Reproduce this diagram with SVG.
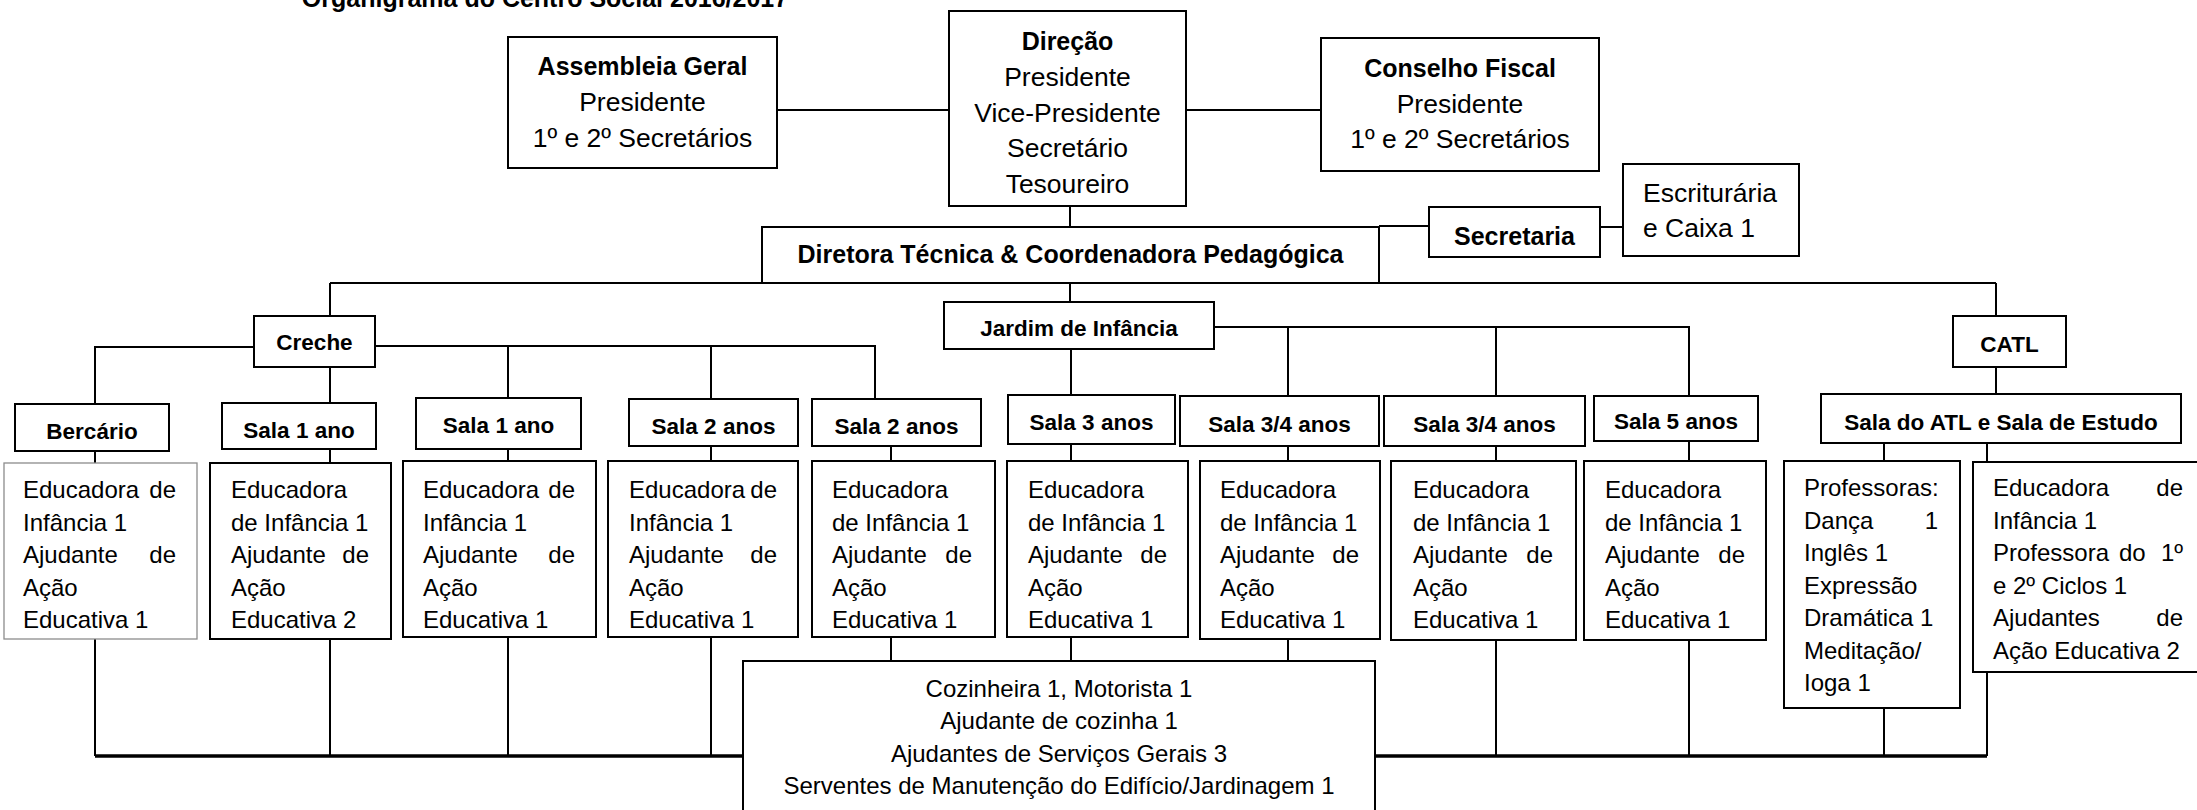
<svg xmlns="http://www.w3.org/2000/svg" width="2197" height="810" viewBox="0 0 2197 810">
<style>
.bx{fill:#fff;stroke:#000;stroke-width:2}
.gx{fill:#fff;stroke:#8c8c8c;stroke-width:1.3}
.ln{fill:none;stroke:#000;stroke-width:2}
.thk{fill:none;stroke:#000;stroke-width:3.5}
text{font-family:"Liberation Sans",Arial,sans-serif;fill:#000}
.ti{font-size:25px;font-weight:bold;text-anchor:middle}
.h{font-size:25px;font-weight:bold;text-anchor:middle}
.tp{font-size:26.5px;text-anchor:middle}
.tl{font-size:26.5px}
.lb{font-size:22.5px;font-weight:bold;text-anchor:middle}
.c{font-size:24px}
.r{font-size:24px;text-anchor:end}
.m{font-size:24px;text-anchor:middle}
</style>
<rect width="2197" height="810" fill="#fff"/>
<text class="ti" x="545" y="7">Organigrama do Centro Social 2016/2017</text>
<g id="connectors">
<path class="ln" d="M777 110H949M1186 110H1321M1070 206V227M1379 226H1429M1600 227H1623"/>
<path class="ln" d="M330 283H1996M330 283V316M1996 283V316M1070 283V302"/>
<path class="ln" d="M254 347H95V404M375 346H875V399M508 346V398M711 346V399M330 367V403"/>
<path class="ln" d="M1071 349V395M1214 327H1689V396M1288 327V396M1496 327V396M1996 367V394"/>
<path class="ln" d="M95 451V463M330 449V463M508 449V461M711 446V461M891 446V461M1071 444V461M1288 446V461M1496 446V461M1689 441V461M1884 443V461M1987 443V462"/>
<path class="ln" d="M95 639V756M330 639V756M508 637V756M711 637V756M1496 640V756M1689 640V756M1884 708V756M1987 672V756M891 637V661M1071 637V661M1288 639V661"/>
<path class="thk" d="M95 756H1987"/>
</g>
<g id="assembleia">
<rect class="bx" x="508" y="37" width="269" height="131"/>
<text class="h" x="642.5" y="75">Assembleia Geral</text>
<text class="tp" x="642.5" y="111">Presidente</text>
<text class="tp" x="642.5" y="147">1º e 2º Secretários</text>
</g>
<g id="direcao">
<rect class="bx" x="949" y="11" width="237" height="195"/>
<text class="h" x="1067.5" y="50">Direção</text>
<text class="tp" x="1067.5" y="86">Presidente</text>
<text class="tp" x="1067.5" y="122">Vice-Presidente</text>
<text class="tp" x="1067.5" y="157">Secretário</text>
<text class="tp" x="1067.5" y="193">Tesoureiro</text>
</g>
<g id="conselho">
<rect class="bx" x="1321" y="38" width="278" height="133"/>
<text class="h" x="1460" y="77">Conselho Fiscal</text>
<text class="tp" x="1460" y="113">Presidente</text>
<text class="tp" x="1460" y="148">1º e 2º Secretários</text>
</g>
<g id="diretora">
<rect class="bx" x="762" y="227" width="617" height="56"/>
<text class="h" x="1070.5" y="263">Diretora Técnica &amp; Coordenadora Pedagógica</text>
</g>
<g id="secretaria">
<rect class="bx" x="1429" y="207" width="171" height="50"/>
<text class="h" x="1514.5" y="245">Secretaria</text>
</g>
<g id="escrituraria">
<rect class="bx" x="1623" y="164" width="176" height="92"/>
<text class="tl" x="1643" y="202">Escriturária</text>
<text class="tl" x="1643" y="237">e Caixa 1</text>
</g>
<g id="creche">
<rect class="bx" x="254" y="316" width="121" height="51"/>
<text class="lb" x="314.5" y="350">Creche</text>
</g>
<g id="jardim">
<rect class="bx" x="944" y="302" width="270" height="47"/>
<text class="lb" x="1079" y="336">Jardim de Infância</text>
</g>
<g id="catl">
<rect class="bx" x="1953" y="316" width="113" height="51"/>
<text class="lb" x="2009.5" y="352">CATL</text>
</g>
<g id="bercario">
<rect class="bx" x="15" y="404" width="154" height="47"/>
<text class="lb" x="92" y="439">Bercário</text>
</g>
<g id="sala1a">
<rect class="bx" x="222" y="403" width="154" height="46"/>
<text class="lb" x="299" y="438">Sala 1 ano</text>
</g>
<g id="sala1b">
<rect class="bx" x="416" y="398" width="165" height="51"/>
<text class="lb" x="498.5" y="433">Sala 1 ano</text>
</g>
<g id="sala2a">
<rect class="bx" x="629" y="399" width="169" height="47"/>
<text class="lb" x="713.5" y="434">Sala 2 anos</text>
</g>
<g id="sala2b">
<rect class="bx" x="812" y="399" width="169" height="47"/>
<text class="lb" x="896.5" y="434">Sala 2 anos</text>
</g>
<g id="sala3">
<rect class="bx" x="1008" y="395" width="167" height="49"/>
<text class="lb" x="1091.5" y="430">Sala 3 anos</text>
</g>
<g id="sala34a">
<rect class="bx" x="1180" y="396" width="199" height="50"/>
<text class="lb" x="1279.5" y="432">Sala 3/4 anos</text>
</g>
<g id="sala34b">
<rect class="bx" x="1384" y="396" width="201" height="50"/>
<text class="lb" x="1484.5" y="432">Sala 3/4 anos</text>
</g>
<g id="sala5">
<rect class="bx" x="1594" y="396" width="164" height="45"/>
<text class="lb" x="1676" y="429">Sala 5 anos</text>
</g>
<g id="salaatl">
<rect class="bx" x="1821" y="394" width="360" height="49"/>
<text class="lb" x="2001" y="430">Sala do ATL e Sala de Estudo</text>
</g>
<g id="bercario-staff">
<rect class="gx" x="4" y="463" width="193" height="176"/>
<text class="c" x="23" y="498">Educadora</text><text class="r" x="176" y="498">de</text>
<text class="c" x="23" y="530.5">Infância 1</text>
<text class="c" x="23" y="563">Ajudante</text><text class="r" x="176" y="563">de</text>
<text class="c" x="23" y="595.5">Ação</text>
<text class="c" x="23" y="628">Educativa 1</text>
</g>
<g id="sala1a-staff">
<rect class="bx" x="210" y="463" width="181" height="176"/>
<text class="c" x="231" y="498">Educadora</text>
<text class="c" x="231" y="530.5">de Infância 1</text>
<text class="c" x="231" y="563">Ajudante</text><text class="r" x="369" y="563">de</text>
<text class="c" x="231" y="595.5">Ação</text>
<text class="c" x="231" y="628">Educativa 2</text>
</g>
<g id="sala1b-staff">
<rect class="bx" x="403" y="461" width="193" height="176"/>
<text class="c" x="423" y="498">Educadora</text><text class="r" x="575" y="498">de</text>
<text class="c" x="423" y="530.5">Infância 1</text>
<text class="c" x="423" y="563">Ajudante</text><text class="r" x="575" y="563">de</text>
<text class="c" x="423" y="595.5">Ação</text>
<text class="c" x="423" y="628">Educativa 1</text>
</g>
<g id="sala2a-staff">
<rect class="bx" x="608" y="461" width="190" height="176"/>
<text class="c" x="629" y="498">Educadora</text><text class="r" x="777" y="498">de</text>
<text class="c" x="629" y="530.5">Infância 1</text>
<text class="c" x="629" y="563">Ajudante</text><text class="r" x="777" y="563">de</text>
<text class="c" x="629" y="595.5">Ação</text>
<text class="c" x="629" y="628">Educativa 1</text>
</g>
<g id="sala2b-staff">
<rect class="bx" x="812" y="461" width="183" height="176"/>
<text class="c" x="832" y="498">Educadora</text>
<text class="c" x="832" y="530.5">de Infância 1</text>
<text class="c" x="832" y="563">Ajudante</text><text class="r" x="972" y="563">de</text>
<text class="c" x="832" y="595.5">Ação</text>
<text class="c" x="832" y="628">Educativa 1</text>
</g>
<g id="sala3-staff">
<rect class="bx" x="1007" y="461" width="181" height="176"/>
<text class="c" x="1028" y="498">Educadora</text>
<text class="c" x="1028" y="530.5">de Infância 1</text>
<text class="c" x="1028" y="563">Ajudante</text><text class="r" x="1167" y="563">de</text>
<text class="c" x="1028" y="595.5">Ação</text>
<text class="c" x="1028" y="628">Educativa 1</text>
</g>
<g id="sala34a-staff">
<rect class="bx" x="1200" y="461" width="180" height="178"/>
<text class="c" x="1220" y="498">Educadora</text>
<text class="c" x="1220" y="530.5">de Infância 1</text>
<text class="c" x="1220" y="563">Ajudante</text><text class="r" x="1359" y="563">de</text>
<text class="c" x="1220" y="595.5">Ação</text>
<text class="c" x="1220" y="628">Educativa 1</text>
</g>
<g id="sala34b-staff">
<rect class="bx" x="1391" y="461" width="185" height="179"/>
<text class="c" x="1413" y="498">Educadora</text>
<text class="c" x="1413" y="530.5">de Infância 1</text>
<text class="c" x="1413" y="563">Ajudante</text><text class="r" x="1553" y="563">de</text>
<text class="c" x="1413" y="595.5">Ação</text>
<text class="c" x="1413" y="628">Educativa 1</text>
</g>
<g id="sala5-staff">
<rect class="bx" x="1584" y="461" width="182" height="179"/>
<text class="c" x="1605" y="498">Educadora</text>
<text class="c" x="1605" y="530.5">de Infância 1</text>
<text class="c" x="1605" y="563">Ajudante</text><text class="r" x="1745" y="563">de</text>
<text class="c" x="1605" y="595.5">Ação</text>
<text class="c" x="1605" y="628">Educativa 1</text>
</g>
<g id="professoras">
<rect class="bx" x="1784" y="461" width="176" height="247"/>
<text class="c" x="1804" y="496">Professoras:</text>
<text class="c" x="1804" y="528.5">Dança</text><text class="r" x="1938" y="528.5">1</text>
<text class="c" x="1804" y="561">Inglês 1</text>
<text class="c" x="1804" y="593.5">Expressão</text>
<text class="c" x="1804" y="626">Dramática 1</text>
<text class="c" x="1804" y="658.5">Meditação/</text>
<text class="c" x="1804" y="691">Ioga 1</text>
</g>
<g id="catl-staff">
<rect class="bx" x="1973" y="462" width="240" height="210"/>
<text class="c" x="1993" y="496">Educadora</text><text class="r" x="2183" y="496">de</text>
<text class="c" x="1993" y="528.5">Infância 1</text>
<text class="c" x="1993" y="561">Professora</text><text class="c" x="2119" y="561">do</text><text class="r" x="2183" y="561">1º</text>
<text class="c" x="1993" y="593.5">e 2º Ciclos 1</text>
<text class="c" x="1993" y="626">Ajudantes</text><text class="r" x="2183" y="626">de</text>
<text class="c" x="1993" y="658.5">Ação Educativa 2</text>
</g>
<g id="servicos">
<rect class="bx" x="743" y="661" width="632" height="200"/>
<text class="m" x="1059" y="697">Cozinheira 1, Motorista 1</text>
<text class="m" x="1059" y="729">Ajudante de cozinha 1</text>
<text class="m" x="1059" y="762">Ajudantes de Serviços Gerais 3</text>
<text class="m" x="1059" y="794">Serventes de Manutenção do Edifício/Jardinagem 1</text>
</g>
</svg>
